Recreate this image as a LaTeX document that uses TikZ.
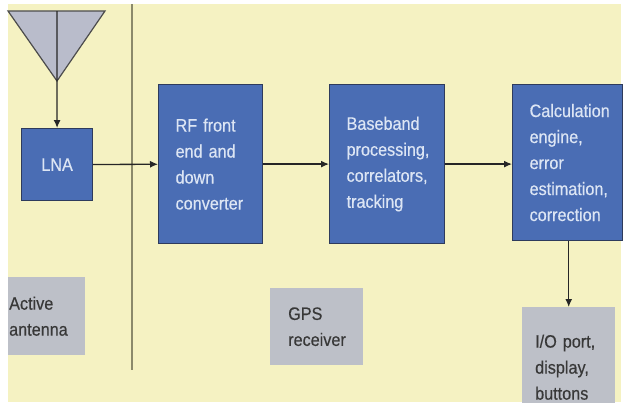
\documentclass[tikz,border=0pt]{standalone}
\usepackage{fontspec}
\setmainfont[FakeStretch=0.9, FakeBold=0.4]{Liberation Sans}
\usepackage{xcolor}
\usetikzlibrary{
    positioning,
    arrows.meta
}
\definecolor{paper}{HTML}{F5F2C2}
\definecolor{blockblue}{HTML}{4A6DB4}
\definecolor{blockedge}{HTML}{2E3B5C}
\definecolor{blocktext}{HTML}{DCE5F4}
\definecolor{taggray}{HTML}{BDC0C8}
\definecolor{antgray}{HTML}{B9BCCB}
\definecolor{rule}{HTML}{8B8A6B}

\begin{document}
\begin{tikzpicture}[
    x=1pt, y=-1pt,
    font=\fontsize{18}{26}\selectfont,
    arrow/.style={
        -{Latex[length=8pt,width=7pt]},
        line width=1.3pt,
        draw=black!85
    },
    block/.style={
        draw=blockedge,
        fill=blockblue,
        line width=1.2pt,
        text=blocktext,
        anchor=north west,
        align=left,
        inner xsep=17pt,
        inner ysep=0pt
    },
    tag/.style={
        fill=taggray,
        text=black!78,
        anchor=north west,
        align=left,
        inner ysep=0pt
    },
    divider/.style={
        draw=rule,
        line width=1.2pt
    }
]
\useasboundingbox (0,0) rectangle (623,402);

% Background
\fill[paper] (8,4) rectangle (621,402);

% Antenna
\filldraw[fill=antgray, draw=black!70, line width=1.2pt]
(8,11) -- (105,11) -- (57,81) -- cycle;
\coordinate (feed) at (57,11);

% Boundary between antenna and receiver
\draw[divider] (132,4) -- (132,370);

% Blocks
\node[block, align=center, inner xsep=0pt, minimum width=71pt, minimum height=72pt] (lna) at (21,128)
{LNA};

\node[block, text width=70pt, minimum height=159pt] (rf) at (158,84)
{RF front\\end and\\down\\converter};

\node[block, text width=81pt, minimum height=159pt] (baseband) at (329,84)
{Baseband\\processing,\\correlators,\\tracking};

\node[block, text width=76pt, minimum height=156pt] (calc) at (512,84)
{Calculation\\engine,\\error\\estimation,\\correction};

% Labels
\node[tag, inner xsep=1pt, text width=75pt, minimum height=78pt] (active) at (8,277)
{Active\\antenna};

\node[tag, inner xsep=18pt, text width=57pt, minimum height=77pt] (gps) at (270,288)
{GPS\\receiver};

\node[tag, inner xsep=13pt, text width=67pt, minimum height=120pt] (io) at (522,307)
{I/O port,\\display,\\buttons};

% Signal path
\draw[arrow] (feed) -- (lna);
\draw[arrow] (lna) -- (rf);
\draw[arrow] (rf) -- (baseband);
\draw[arrow] (baseband.east) -- (baseband.east -| calc.west);
\draw[arrow] (calc.south -| io.north) -- (io.north);

\end{tikzpicture}
\end{document}
